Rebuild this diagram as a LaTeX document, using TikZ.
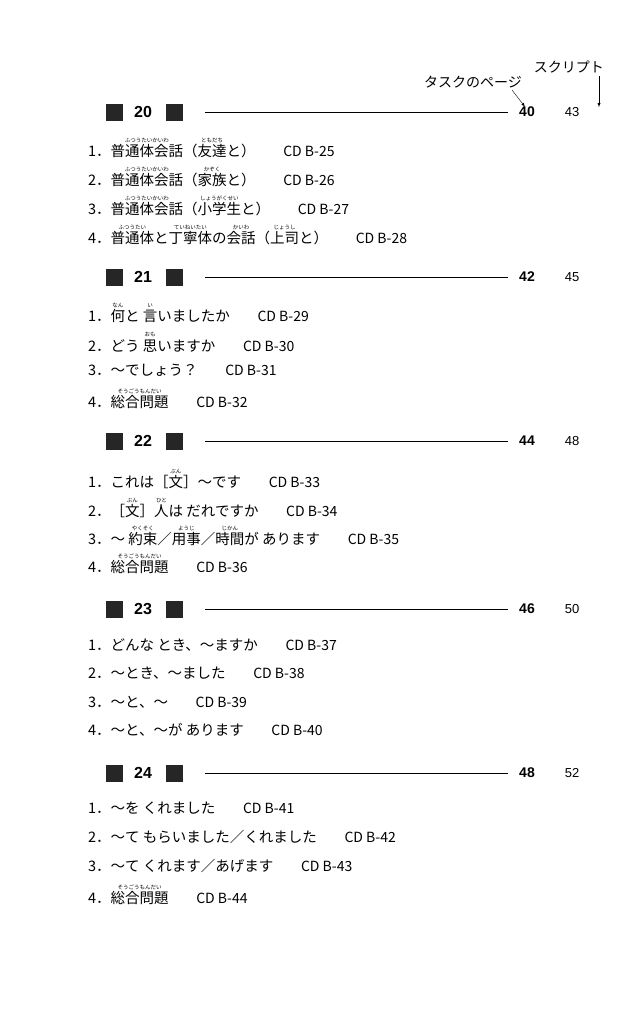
\documentclass[tikz,border=0pt]{standalone}
\usepackage{fontspec}
\setmainfont{Liberation Sans}
\newfontfamily\jp{Noto Sans CJK JP}
\newsavebox\rbbox
\newcommand\rb[2]{\sbox\rbbox{#1}\rlap{\raisebox{1.0em}{\makebox[\wd\rbbox]{\fontsize{5.5}{5.5}\selectfont #2}}}\usebox\rbbox}
\newcommand\cd[1]{\hspace{1.9em}{\fontsize{14}{14}\selectfont CD B-#1}}
\begin{document}
\begin{tikzpicture}[x=1pt,y=-1pt,
 sq/.style={fill=black!85,minimum size=17pt,inner sep=0pt},
 secnum/.style={font=\fontsize{16}{16}\selectfont\bfseries,inner sep=0pt},
 item/.style={anchor=west,inner sep=0pt,font=\jp\fontsize{14.5}{14.5}\selectfont},
 pgb/.style={font=\fontsize{14}{14}\selectfont\bfseries,inner sep=0pt},
 pgr/.style={font=\fontsize{13}{13}\selectfont,inner sep=0pt},
 note/.style={font=\jp\fontsize{14}{14}\selectfont,inner sep=0pt}]
\useasboundingbox (0,0) rectangle (638,1010);
\newcommand\sect[4]{%
 \node[sq] (sa#1) at (114,#2) {};
 \node[secnum,anchor=west] (sn#1) at (134,#2) {#1};
 \node[sq] (sb#1) at (174,#2) {};
 \node[pgb] (pa#1) at (527,#2) {#3};
 \node[pgr] (pb#1) at (572,#2) {#4};
 \coordinate (ls#1) at (205,#2);
 \coordinate (le#1) at (508,#2);
 \draw[thick] (ls#1) -- (le#1);}
\sect{20}{112}{40}{43}
\sect{21}{277}{42}{45}
\sect{22}{441}{44}{48}
\sect{23}{609}{46}{50}
\sect{24}{773}{48}{52}
\node[note,anchor=east] (scr) at (604,67) {スクリプト};
\node[note,anchor=east] (task) at (522,82) {タスクのページ};
\coordinate (ar1) at (599,76);
\coordinate (ar2) at (512,90);
\draw[-latex] (ar1) -- (pb20.north -| ar1);
\draw[-latex] (ar2) -- ([xshift=-2pt]pa20.north);
% 20
\node[item] (i201) at (88,148) {1．\rb{普通体会話}{ふつうたいかいわ}（\rb{友達}{ともだち}と）\cd{25}};
\node[item] (i202) at (88,177) {2．\rb{普通体会話}{ふつうたいかいわ}（\rb{家族}{かぞく}と）\cd{26}};
\node[item] (i203) at (88,206) {3．\rb{普通体会話}{ふつうたいかいわ}（\rb{小学生}{しょうがくせい}と）\cd{27}};
\node[item] (i204) at (88,235) {4．\rb{普通体}{ふつうたい}と\rb{丁寧体}{ていねいたい}の\rb{会話}{かいわ}（\rb{上司}{じょうし}と）\cd{28}};
% 21
\node[item] (i211) at (88,313) {1．\rb{何}{なん}と \rb{言}{い}いましたか\cd{29}};
\node[item] (i212) at (88,342) {2．どう \rb{思}{おも}いますか\cd{30}};
\node[item] (i213) at (88,370) {3．〜でしょう？\cd{31}};
\node[item] (i214) at (88,399) {4．\rb{総合問題}{そうごうもんだい}\cd{32}};
% 22
\node[item] (i221) at (88,479) {1．これは［\rb{文}{ぶん}］〜です\cd{33}};
\node[item] (i222) at (88,508) {2．［\rb{文}{ぶん}］\rb{人}{ひと}は だれですか\cd{34}};
\node[item] (i223) at (88,536) {3．〜 \rb{約束}{やくそく}／\rb{用事}{ようじ}／\rb{時間}{じかん}が あります\cd{35}};
\node[item] (i224) at (88,564) {4．\rb{総合問題}{そうごうもんだい}\cd{36}};
% 23
\node[item] (i231) at (88,645) {1．どんな とき、〜ますか\cd{37}};
\node[item] (i232) at (88,673) {2．〜とき、〜ました\cd{38}};
\node[item] (i233) at (88,702) {3．〜と、〜\cd{39}};
\node[item] (i234) at (88,730) {4．〜と、〜が あります\cd{40}};
% 24
\node[item] (i241) at (88,808) {1．〜を くれました\cd{41}};
\node[item] (i242) at (88,837) {2．〜て もらいました／くれました\cd{42}};
\node[item] (i243) at (88,866) {3．〜て くれます／あげます\cd{43}};
\node[item] (i244) at (88,895) {4．\rb{総合問題}{そうごうもんだい}\cd{44}};
\end{tikzpicture}
\end{document}
